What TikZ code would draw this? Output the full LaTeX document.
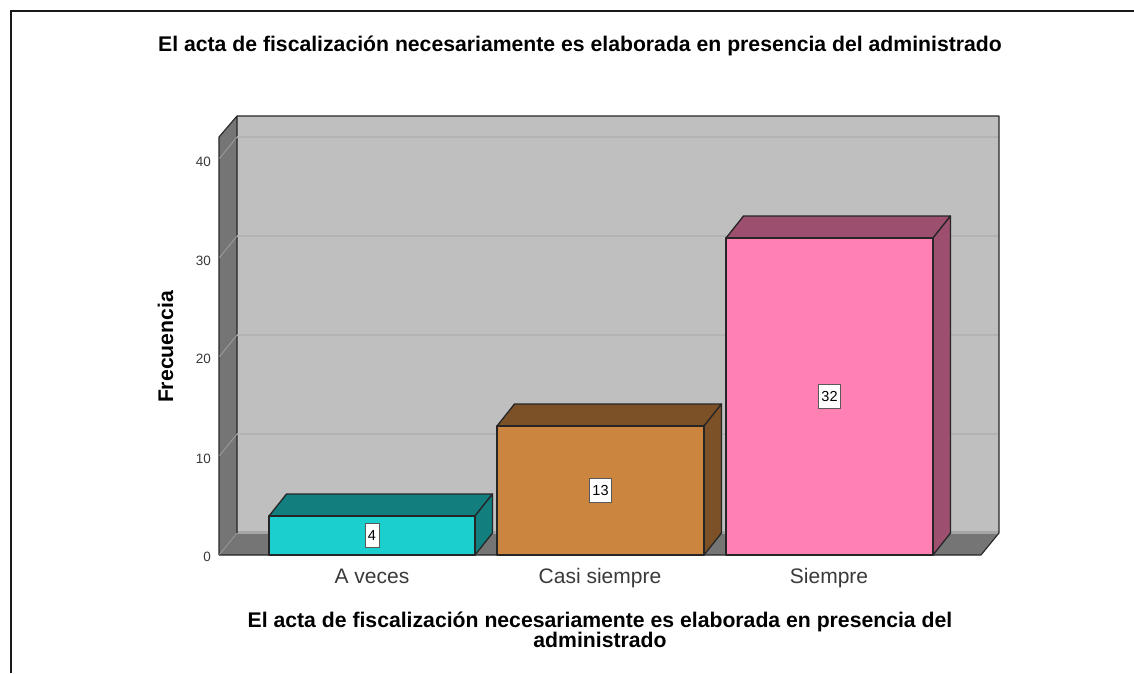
\documentclass[tikz,border=0pt]{standalone}
\usepackage{fontspec}
\setmainfont{Liberation Sans}
\definecolor{wallback}{HTML}{BFBFBF}
\definecolor{wallside}{HTML}{757575}
\definecolor{gridc}{HTML}{B3B3B3}
\definecolor{gridl}{HTML}{A6A6A6}
\definecolor{tealF}{HTML}{1CCFCF}
\definecolor{tealD}{HTML}{127E7E}
\definecolor{brownF}{HTML}{CB853F}
\definecolor{brownD}{HTML}{7D5128}
\definecolor{pinkF}{HTML}{FF80B3}
\definecolor{pinkD}{HTML}{9C4F6E}
\definecolor{txt}{HTML}{3A3A3A}
\tikzset{
  edge/.style={draw=black!85,line width=1.3pt,line join=round},
  face/.style={edge,fill=#1},
  tick/.style={font=\fontsize{13.5}{13.5}\selectfont,text=txt,anchor=east,inner sep=0pt},
  cat/.style={font=\fontsize{21}{21}\selectfont,text=txt,inner sep=0pt,anchor=base},
  heading/.style={font=\bfseries\fontsize{21.2}{21.2}\selectfont,text=black,inner sep=0pt,anchor=base},
  val/.style={fill=white,draw=black!65,line width=.9pt,font=\fontsize{14.5}{14.5}\selectfont,text=black,inner sep=0pt,minimum height=23.5pt,minimum width=#1},
  frameline/.style={line width=2.4pt,draw=black!90},
}
\newcommand{\barbox}[8]{% x0 x1 ytop front dark name value boxwidth
  \path[face=#5] (#1,#3) -- ++(17.5,-22) -- (#2+17.5,#3-22) -- (#2,#3) -- cycle;
  \path[face=#5] (#2,#3) -- (#2+17.5,#3-22) -- (#2+17.5,533) -- (#2,555) -- cycle;
  \path[face=#4] (#1,#3) rectangle (#2,555);
  \node[val=#8] (#6) at ({(#1+#2)/2},{(#3+555)/2}) {#7};
}
\begin{document}
\begin{tikzpicture}[x=1pt,y=-1pt]
\useasboundingbox (0,0) rectangle (1134,673);
\fill[white] (0,0) rectangle (1134,673);
\draw[frameline] (1134,11) -- (11,11) -- (11,673);
% walls
\path[fill=wallback] (237,116) rectangle (999,533);
\fill[wallside] (237,533) -- (999,533) -- (981,555) -- (219,555) -- cycle;
\fill[gridl] (237,531) rectangle (999,534);
\fill[wallside] (219,137) -- (237,116) -- (237,533) -- (219,555) -- cycle;
\draw[edge,line width=1.1pt] (219,555) -- (219,137) -- (237,116) -- (237,533);
\foreach \y in {137,236,335,434} {
  \draw[gridc,line width=1.2pt] (237,\y) -- (999,\y);
  \draw[gridc!85!black,line width=1pt] (219.5,\y+21.5) -- (237,\y);
}
\draw[edge,line width=1.1pt] (237,116) -- (999,116) -- (999,533) -- (981,555) -- (219,555);
\draw[gridc!85!black,line width=.8pt] (219.5,554.5) -- (237,533);
% bars
\barbox{269}{475}{516}{tealF}{tealD}{v4}{4}{14pt}
\barbox{497}{704}{426}{brownF}{brownD}{v13}{13}{22pt}
\barbox{726}{933}{238}{pinkF}{pinkD}{v32}{32}{22pt}
% ticks
\node[tick] (t40) at (211,162) {40};
\node[tick] (t30) at (211,261) {30};
\node[tick] (t20) at (211,359) {20};
\node[tick] (t10) at (211,459) {10};
\node[tick] (t0) at (211,557) {0};
% categories
\node[cat] (c1) at (372,583) {A veces};
\node[cat] (c2) at (600,583) {Casi siempre};
\node[cat] (c3) at (829,583) {Siempre};
% titles
\node[heading] (title) at (580,51) {El acta de fiscalización necesariamente es elaborada en presencia del administrado};
\node[heading] (xa) at (600,627) {El acta de fiscalización necesariamente es elaborada en presencia del};
\node[heading] (xb) at (600,647) {administrado};
\node[heading,rotate=90] (ya) at (173,347) {Frecuencia};
\end{tikzpicture}
\end{document}
